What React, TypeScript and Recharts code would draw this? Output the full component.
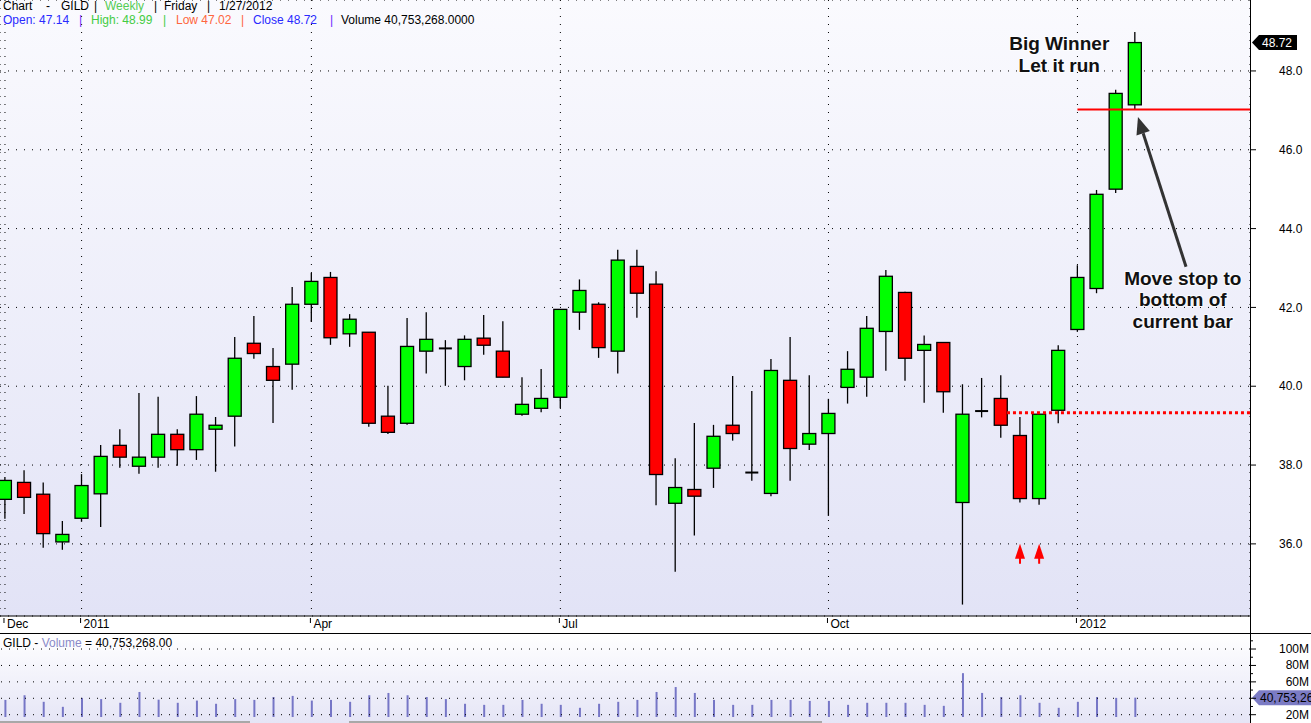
import {
  Bar,
  CartesianGrid,
  ComposedChart,
  ReferenceDot,
  ReferenceLine,
  XAxis,
  YAxis,
} from 'recharts';

// weekly bars, Friday dates
const WEEKS = [
  '2010-12-10', '2010-12-17', '2010-12-24', '2010-12-31',
  '2011-01-07', '2011-01-14', '2011-01-21', '2011-01-28', '2011-02-04', '2011-02-11',
  '2011-02-18', '2011-02-25', '2011-03-04', '2011-03-11', '2011-03-18', '2011-03-25',
  '2011-04-01', '2011-04-08', '2011-04-15', '2011-04-22', '2011-04-29', '2011-05-06',
  '2011-05-13', '2011-05-20', '2011-05-27', '2011-06-03', '2011-06-10', '2011-06-17',
  '2011-06-24', '2011-07-01', '2011-07-08', '2011-07-15', '2011-07-22', '2011-07-29',
  '2011-08-05', '2011-08-12', '2011-08-19', '2011-08-26', '2011-09-02', '2011-09-09',
  '2011-09-16', '2011-09-23', '2011-09-30', '2011-10-07', '2011-10-14', '2011-10-21',
  '2011-10-28', '2011-11-04', '2011-11-11', '2011-11-18', '2011-11-25', '2011-12-02',
  '2011-12-09', '2011-12-16', '2011-12-23', '2011-12-30',
  '2012-01-06', '2012-01-13', '2012-01-20', '2012-01-27',
];

const OPEN = [
  37.13, 37.56, 37.26, 36.05, 36.65, 37.27, 38.5, 37.97, 38.2, 38.78,
  38.39, 38.91, 39.24, 41.09, 40.5, 40.56, 42.08, 42.76, 41.33, 41.37,
  39.24, 39.06, 40.89, 40.96, 40.5, 41.22, 40.89, 39.29, 39.44, 39.72,
  41.88, 42.08, 40.89, 43.04, 42.59, 37.03, 37.38, 37.92, 39.01, 37.81,
  37.28, 40.15, 38.53, 38.8, 39.97, 40.23, 41.39, 42.38, 40.91, 41.11,
  37.05, 39.37, 39.69, 38.75, 37.15, 39.39, 41.44, 42.48, 45.0, 47.14,
];
const HIGH = [
  37.7, 37.87, 37.56, 36.58, 37.77, 38.51, 38.91, 39.83, 39.73, 38.91,
  39.75, 39.22, 41.25, 41.78, 40.97, 42.52, 42.87, 42.9, 41.83, 41.37,
  40.01, 41.73, 41.88, 41.17, 41.29, 41.81, 41.65, 40.23, 40.44, 41.95,
  42.71, 42.13, 43.46, 43.46, 42.92, 38.17, 39.07, 39.02, 40.26, 39.88,
  40.69, 41.25, 40.28, 39.68, 40.89, 41.78, 42.95, 42.4, 41.29, 41.11,
  40.05, 40.21, 40.28, 39.22, 39.29, 41.04, 43.07, 44.98, 47.52, 48.99,
];
const LOW = [
  36.64, 36.76, 35.9, 35.85, 36.56, 36.43, 37.93, 37.78, 37.93, 37.98,
  38.13, 37.83, 38.47, 40.7, 39.07, 39.91, 41.63, 41.05, 41.0, 38.97,
  38.79, 39.02, 40.32, 40.01, 40.15, 40.8, 40.23, 39.25, 39.34, 39.45,
  41.43, 40.72, 40.32, 41.74, 36.98, 35.29, 36.21, 37.42, 38.62, 37.6,
  37.21, 37.6, 38.38, 36.71, 39.56, 39.73, 40.39, 40.14, 39.58, 39.33,
  34.46, 39.21, 38.69, 37.05, 36.99, 39.06, 41.38, 42.36, 44.9, 47.02,
];
const CLOSE = [
  37.61, 37.18, 36.26, 36.24, 37.48, 38.22, 38.2, 38.2, 38.78, 38.39,
  39.29, 39.01, 40.71, 40.83, 40.15, 42.08, 42.66, 41.23, 41.7, 39.06,
  38.83, 41.01, 41.19, 40.96, 41.19, 41.04, 40.23, 39.54, 39.69, 41.95,
  42.43, 40.98, 43.2, 42.36, 37.76, 37.43, 37.21, 38.73, 38.8, 37.81,
  40.4, 38.42, 38.8, 39.31, 40.43, 41.47, 42.79, 40.71, 41.06, 39.86,
  39.29, 39.37, 39.01, 37.15, 39.29, 40.91, 42.76, 44.87, 47.43, 48.72,
];
// volume in millions of shares
const VOLUME = [
  38, 43.7, 35.7, 29.6, 40.5, 39, 34.5, 47.7, 38.3, 34.5,
  37.2, 33.3, 39, 38, 41.5, 42.9, 37.2, 38, 35.7, 43.7,
  46.5, 43.7, 41.5, 39, 33.3, 32, 32, 38, 33.3, 32,
  28.4, 33.3, 35.7, 38, 47.7, 53.7, 46.5, 38, 32, 32,
  38, 38, 36.8, 36.8, 32, 34.5, 34.5, 34.5, 32, 30.8,
  70.6, 46.5, 41.5, 43.7, 34.5, 28.4, 35.7, 41.5, 40.5, 40.753,
];
const LAST_VOLUME = 40753268;

const MONTH_TICKS = ['2010-12-10', '2011-01-07', '2011-04-01', '2011-07-01', '2011-10-07', '2012-01-06'];
const MONTH_LABELS = ['Dec', '2011', 'Apr', 'Jul', 'Oct', '2012'];
const PRICE_TICKS = [36, 38, 40, 42, 44, 46, 48];
const VOLUME_TICKS = [20, 30, 40, 50, 60, 70, 80, 90, 100, 110];
const VOLUME_GRID = [20, 40, 60, 80, 100];

// trade annotations
const STOP_LEVEL = 47.02;
const STOP_FROM = '2012-01-06';
const BREAKOUT_LEVEL = 39.33;
const BREAKOUT_FROM = 52.32;
const SIGNAL_WEEKS = ['2011-12-16', '2011-12-23'];
const SIGNAL_PRICE = 35.8;
const NOTE_WINNER = { x: 55.05, y: 48.52, lines: ['Big Winner', 'Let it run'] };
const NOTE_STOP = { x: 61.5, y: 42.57, lines: ['Move stop to', 'bottom of', 'current bar'] };
const STOP_ARROW = [
  { x: 61.67, y: 43.03 },
  { x: 59.16, y: 46.83 },
];

const FONT = '"Liberation Sans", Arial, Helvetica, sans-serif';
const X_DOMAIN: [number, number] = [-0.26, 65.01];
const PRICE_DOMAIN: [number, number] = [34.17, 49.8];
const VOL_DOMAIN: [number, number] = [17.2, 118.3];

const rows = WEEKS.map((date, i) => ({
  i,
  date,
  o: OPEN[i],
  h: HIGH[i],
  l: LOW[i],
  c: CLOSE[i],
  v: VOLUME[i],
}));
const monthIdx = MONTH_TICKS.map((d) => WEEKS.indexOf(d));
const last = rows[rows.length - 1];
const volText = LAST_VOLUME.toLocaleString('en-US');

const Candle = (props: any) => {
  const { x, y, width, height, payload } = props;
  const { o, h, l, c } = payload;
  const top = Math.min(y, y + height);
  const span = Math.abs(height);
  const k = h === l ? 0 : span / (h - l);
  const py = (v: number) => top + (h - v) * k;
  const cx = x + width / 2;
  const bodyTop = py(Math.max(o, c));
  const bodyBot = py(Math.min(o, c));
  const wick = <line x1={cx} x2={cx} y1={top} y2={top + span} stroke="#000" strokeWidth={1.3} />;
  if (Math.abs(o - c) < 0.005) {
    return (
      <g>
        {wick}
        <line x1={x} x2={x + width} y1={bodyTop} y2={bodyTop} stroke="#000" strokeWidth={2} />
      </g>
    );
  }
  return (
    <g>
      {wick}
      <rect
        x={x}
        y={bodyTop}
        width={width}
        height={Math.max(bodyBot - bodyTop, 1)}
        fill={c > o ? '#00ff00' : '#ff0000'}
        stroke="#000"
        strokeWidth={1.3}
      />
    </g>
  );
};

const MonthTick = ({ x, y, payload }: any) => {
  const k = monthIdx.indexOf(payload.value);
  return (
    <g>
      <line x1={x - 1} x2={x - 1} y1={y + 2} y2={y + 7} stroke="#000" />
      <text x={x + 2} y={y + 11.5} fontSize={12} fill="#000">
        {MONTH_LABELS[k]}
      </text>
    </g>
  );
};

const VolumeTick = ({ x, y, payload }: any) => {
  const v = payload.value;
  const major = v % 20 === 0;
  return (
    <g>
      <line x1={x} x2={x + (major ? 6 : 3)} y1={y} y2={y} stroke="#000" />
      {major && v !== 40 && (
        <text x={x + 59} y={y + 4} textAnchor="end" fontSize={12} fill="#000">
          {v}M
        </text>
      )}
    </g>
  );
};

const PriceTag = ({ cx, cy }: any) => (
  <g>
    <polygon
      points={`${cx + 2},${cy} ${cx + 9},${cy - 7.5} ${cx + 47},${cy - 7.5} ${cx + 47},${cy + 7.5} ${cx + 9},${cy + 7.5}`}
      fill="#000"
    />
    <text x={cx + 12} y={cy + 4.5} fontSize={12} fill="#fff">
      {last.c.toFixed(2)}
    </text>
  </g>
);

const VolumeTag = ({ cx, cy }: any) => (
  <g>
    <polygon
      points={`${cx + 2},${cy} ${cx + 9},${cy - 7.5} ${cx + 70},${cy - 7.5} ${cx + 70},${cy + 7.5} ${cx + 9},${cy + 7.5}`}
      fill="#7b7bc4"
    />
    <text x={cx + 10} y={cy + 4.5} fontSize={12} fill="#000">
      {volText}
    </text>
  </g>
);

const SignalArrow = ({ cx, cy }: any) => (
  <g fill="#ff0000">
    <polygon points={`${cx},${cy - 8} ${cx + 5},${cy + 7} ${cx - 5},${cy + 7}`} />
    <rect x={cx - 1} y={cy + 6} width={2} height={6} />
  </g>
);

const noteShape = (lines: string[]) => ({ cx, cy }: any) => (
  <text
    x={cx}
    y={cy}
    textAnchor="middle"
    fontSize={19}
    fontWeight="bold"
    fill="#111"
    stroke="rgba(255,255,255,0.7)"
    strokeWidth={2}
    paintOrder="stroke"
  >
    {lines.map((t, k) => (
      <tspan key={t} x={cx} dy={k === 0 ? 0 : 21.5}>
        {t}
      </tspan>
    ))}
  </text>
);

const ArrowShape = ({ x1, y1, x2, y2 }: any) => {
  const ang = Math.atan2(y2 - y1, x2 - x1);
  const len = 17;
  const half = 7;
  const bx = x2 - len * Math.cos(ang);
  const by = y2 - len * Math.sin(ang);
  const nx = Math.sin(ang) * half;
  const ny = Math.cos(ang) * half;
  return (
    <g>
      <line x1={x1} y1={y1} x2={bx} y2={by} stroke="#333" strokeWidth={3} />
      <polygon points={`${x2},${y2} ${bx + nx},${by - ny} ${bx - nx},${by + ny}`} fill="#333" />
    </g>
  );
};

const HeaderText = () => (
  <svg width={600} height={30} style={{ position: 'absolute', left: 0, top: 0 }} fontFamily={FONT} fontSize={12}>
    <text y={10}>
      <tspan x={3}>Chart</tspan>
      <tspan x={46}>-</tspan>
      <tspan x={61}>GILD</tspan>
      <tspan x={94}>|</tspan>
      <tspan x={105} fill="#55cc55">Weekly</tspan>
      <tspan x={154}>|</tspan>
      <tspan x={164}>Friday</tspan>
      <tspan x={207}>|</tspan>
      <tspan x={219}>1/27/2012</tspan>
    </text>
    <text y={24}>
      <tspan x={3} fill="#2a2aff">Open: {last.o.toFixed(2)}</tspan>
      <tspan x={79} fill="#6a2aff">|</tspan>
      <tspan x={91} fill="#44cc44">High: {last.h.toFixed(2)}</tspan>
      <tspan x={163} fill="#44cc44">|</tspan>
      <tspan x={176} fill="#ff6640">Low {last.l.toFixed(2)}</tspan>
      <tspan x={241} fill="#ff6640">|</tspan>
      <tspan x={253} fill="#2a2aff">Close {last.c.toFixed(2)}</tspan>
      <tspan x={330} fill="#6a2aff">|</tspan>
      <tspan x={341} fill="#000">Volume {volText}.0000</tspan>
    </text>
  </svg>
);

export default function App() {
  return (
    <div
      style={{
        position: 'absolute',
        left: 0,
        top: 0,
        width: 1311,
        height: 723,
        overflow: 'hidden',
        background: '#fff',
        fontFamily: FONT,
      }}
    >
      <div
        style={{
          position: 'absolute',
          left: 0,
          top: 0,
          width: 1250,
          height: 616,
          background: 'linear-gradient(#fafafe, #e2e3f6)',
        }}
      />
      <div
        style={{
          position: 'absolute',
          left: 0,
          top: 634,
          width: 1250,
          height: 89,
          background: 'linear-gradient(#ffffff, #e5e5f6)',
        }}
      />

      <div style={{ position: 'absolute', left: 0, top: 0 }}>
        <ComposedChart width={1311} height={633} data={rows} margin={{ top: 0, right: 0, bottom: 0, left: 0 }}>
          <CartesianGrid stroke="#000" strokeDasharray="1 7" />
          <XAxis
            dataKey="i"
            type="number"
            domain={X_DOMAIN}
            ticks={monthIdx}
            interval={0}
            allowDataOverflow
            height={17}
            axisLine={{ stroke: '#000' }}
            tickLine={false}
            tickSize={0}
            tickMargin={0}
            tick={<MonthTick />}
          />
          <YAxis
            orientation="right"
            width={61}
            domain={PRICE_DOMAIN}
            ticks={PRICE_TICKS}
            interval={0}
            allowDataOverflow
            axisLine={false}
            tickLine={{ stroke: '#000' }}
            tickSize={6}
            tickMargin={23}
            tick={{ fontSize: 12, fill: '#000' }}
            tickFormatter={(v: number) => v.toFixed(1)}
          />
          <Bar
            dataKey={(d: any) => [d.l, d.h]}
            barSize={13}
            shape={Candle}
            isAnimationActive={false}
          />
          <ReferenceLine
            segment={[
              { x: WEEKS.indexOf(STOP_FROM), y: STOP_LEVEL },
              { x: X_DOMAIN[1], y: STOP_LEVEL },
            ]}
            stroke="#ff0000"
            strokeWidth={2}
            ifOverflow="visible"
          />
          <ReferenceLine
            segment={[
              { x: BREAKOUT_FROM, y: BREAKOUT_LEVEL },
              { x: X_DOMAIN[1], y: BREAKOUT_LEVEL },
            ]}
            stroke="#ff0000"
            strokeWidth={3}
            strokeDasharray="3 3"
            ifOverflow="visible"
          />
          {SIGNAL_WEEKS.map((d) => (
            <ReferenceDot
              key={d}
              x={WEEKS.indexOf(d)}
              y={SIGNAL_PRICE}
              shape={SignalArrow}
              ifOverflow="visible"
            />
          ))}
          <ReferenceLine segment={STOP_ARROW} shape={ArrowShape} ifOverflow="visible" />
          <ReferenceDot x={NOTE_WINNER.x} y={NOTE_WINNER.y} shape={noteShape(NOTE_WINNER.lines)} ifOverflow="visible" />
          <ReferenceDot x={NOTE_STOP.x} y={NOTE_STOP.y} shape={noteShape(NOTE_STOP.lines)} ifOverflow="visible" />
          <ReferenceDot x={X_DOMAIN[1]} y={last.c} shape={PriceTag} ifOverflow="visible" />
        </ComposedChart>
      </div>

      <div style={{ position: 'absolute', left: 0, top: 633, width: 1311, height: 1, background: '#000' }} />

      <div style={{ position: 'absolute', left: 0, top: 634 }}>
        <ComposedChart width={1311} height={89} data={rows} margin={{ top: 0, right: 0, bottom: 6, left: 0 }}>
          <XAxis dataKey="i" type="number" domain={X_DOMAIN} allowDataOverflow hide />
          <YAxis
            orientation="right"
            width={61}
            domain={VOL_DOMAIN}
            ticks={VOLUME_TICKS}
            interval={0}
            allowDataOverflow
            axisLine={false}
            tickLine={false}
            tickSize={0}
            tickMargin={0}
            tick={<VolumeTick />}
          />
          {VOLUME_GRID.map((v) => (
            <ReferenceLine key={v} y={v} stroke="#000" strokeDasharray="1 7" />
          ))}
          <Bar
            dataKey={(d: any) => [VOL_DOMAIN[0], d.v]}
            barSize={2}
            fill="#7676c6"
            isAnimationActive={false}
          />
          <ReferenceDot x={X_DOMAIN[1]} y={last.v} shape={VolumeTag} ifOverflow="visible" />
        </ComposedChart>
      </div>

      <svg width={400} height={16} style={{ position: 'absolute', left: 0, top: 634 }} fontFamily={FONT} fontSize={12}>
        <text x={3} y={12.5}>
          GILD - <tspan fill="#8a8ac8">Volume</tspan> = {volText}.00
        </text>
      </svg>

      <div style={{ position: 'absolute', left: 1250, top: 0, width: 1, height: 723, background: '#000' }} />
      <div style={{ position: 'absolute', left: 0, top: 721, width: 250, height: 2, background: '#a8a8a8' }} />
      <div style={{ position: 'absolute', left: 349, top: 721, width: 473, height: 2, background: '#a8a8a8' }} />

      <HeaderText />
    </div>
  );
}
